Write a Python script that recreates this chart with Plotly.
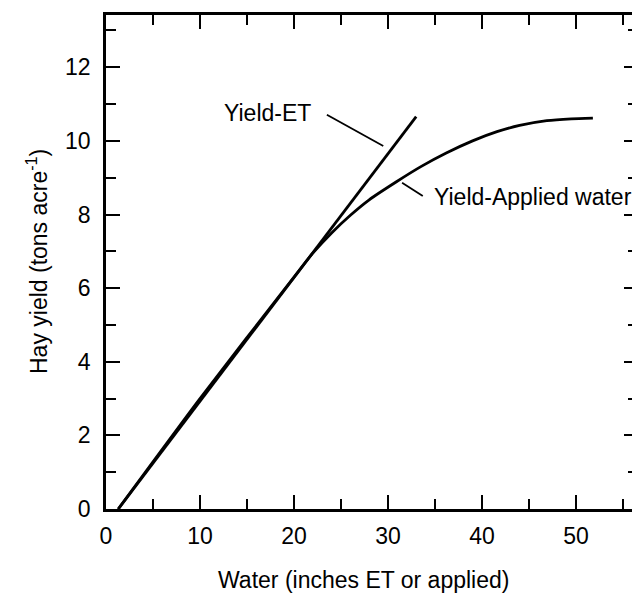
import plotly.graph_objects as go

# Yield-ET straight line (water in inches, yield in tons/acre)
et_water = [1.3, 33.0]
et_yield = [0.0, 10.66]

# Yield-Applied water curve
applied_water = [1.3, 10.0, 20.0, 22.0, 24.0, 26.0, 28.0, 30.9, 33.5, 36.2, 39.0, 41.6, 44.0, 46.9, 49.5, 51.8]
applied_yield = [0.0, 3.0, 6.3, 6.95, 7.5, 7.98, 8.4, 8.89, 9.3, 9.67, 10.0, 10.25, 10.42, 10.55, 10.6, 10.62]

# leader lines for the two labels
et_leader_x = [23.5, 29.5]
et_leader_y = [10.71, 9.86]
app_leader_x = [31.5, 33.7]
app_leader_y = [8.86, 8.5]

FONT = "Liberation Sans, Arial, sans-serif"
FS = 23

fig = go.Figure()
fig.add_trace(go.Scatter(x=et_water, y=et_yield, mode="lines",
                         line=dict(color="black", width=2.8), showlegend=False))
fig.add_trace(go.Scatter(x=applied_water, y=applied_yield, mode="lines",
                         line=dict(color="black", width=2.8, shape="spline", smoothing=0.6),
                         showlegend=False))
fig.add_trace(go.Scatter(x=et_leader_x, y=et_leader_y, mode="lines",
                         line=dict(color="black", width=1.8), showlegend=False))
fig.add_trace(go.Scatter(x=app_leader_x, y=app_leader_y, mode="lines",
                         line=dict(color="black", width=1.8), showlegend=False))

fig.add_annotation(x=22.0, y=10.76, text="Yield-ET", showarrow=False,
                   xanchor="right", yanchor="middle", font=dict(size=FS, color="black"))
fig.add_annotation(x=34.7, y=8.48, text="Yield-Applied water", showarrow=False,
                   xanchor="left", yanchor="middle", font=dict(size=FS, color="black"))

# axis titles placed as paper annotations
fig.add_annotation(x=0.5, y=0, xref="paper", yref="paper", text="Water (inches ET or applied)",
                   showarrow=False, xanchor="center", yanchor="middle", yshift=-71, xshift=-9,
                   font=dict(size=FS, color="black"))
fig.add_annotation(x=0, y=0.5, xref="paper", yref="paper", text="Hay yield (tons acre<sup>-1</sup>)",
                   showarrow=False, xanchor="center", yanchor="middle", xshift=-69, textangle=-90,
                   font=dict(size=FS, color="black"))

axis_common = dict(
    showline=True, linecolor="black", linewidth=2.5, mirror="ticks",
    ticks="inside", tickcolor="black", tickwidth=2.2, ticklen=14,
    showgrid=False, zeroline=False, automargin=False,
    tickfont=dict(size=FS, color="black"),
)

fig.update_xaxes(
    range=[0, 56.6], dtick=10, tick0=0,
    minor=dict(dtick=5, ticks="inside", ticklen=10, tickwidth=2.2, tickcolor="black"),
    ticklabelstandoff=5,
    **axis_common,
)
fig.update_yaxes(
    range=[0, 13.42], dtick=2, tick0=0,
    minor=dict(dtick=1, ticks="inside", ticklen=10, tickwidth=2.2, tickcolor="black"),
    ticklabelstandoff=8,
    **axis_common,
)

# the page body adds an 8 px offset, so the figure is sized to fit the window
fig.update_layout(
    width=632, height=586,
    margin=dict(l=98, r=2, t=7, b=85),
    plot_bgcolor="white", paper_bgcolor="white",
    font=dict(family=FONT, color="black"),
)

fig.write_html("out.html")
